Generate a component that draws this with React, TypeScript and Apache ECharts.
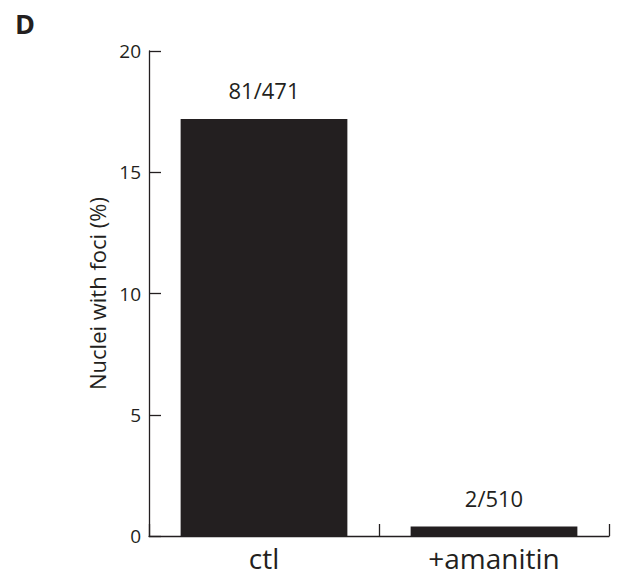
import React, { useEffect, useRef } from "react";
import * as echarts from "echarts";

const categories = ["ctl", "+amanitin"];
const values = [17.2, 0.39];
const barLabels = ["81/471", "2/510"];
const yTicks = [0, 5, 10, 15, 20];

const FONT = "'Open Sans', 'Noto Sans', sans-serif";
const INK = "#231f20";

export default function App() {
  const ref = useRef<HTMLDivElement>(null);
  useEffect(() => {
    if (!ref.current) return;
    const chart = echarts.init(ref.current, null, { renderer: "svg" });
    chart.setOption({
      animation: false,
      backgroundColor: "#ffffff",
      textStyle: { fontFamily: FONT },
      graphic: [
        {
          type: "text",
          left: 15,
          top: 10,
          style: { text: "D", font: `bold 27px ${FONT}`, fill: INK },
        },
      ],
      grid: { left: 149, right: 16, top: 51, bottom: 47, containLabel: false },
      xAxis: {
        type: "category",
        data: categories,
        boundaryGap: true,
        axisLine: { show: true, lineStyle: { color: INK, width: 1.3 } },
        axisTick: {
          show: true,
          inside: true,
          length: 12,
          alignWithLabel: false,
          lineStyle: { color: INK, width: 1.3 },
        },
        axisLabel: { color: INK, fontSize: 28, margin: 8, fontFamily: FONT },
        splitLine: { show: false },
      },
      yAxis: {
        type: "value",
        min: yTicks[0],
        max: yTicks[yTicks.length - 1],
        interval: 5,
        name: "Nuclei with foci (%)",
        nameLocation: "middle",
        nameGap: 39,
        nameTextStyle: { color: INK, fontSize: 22, fontFamily: FONT },
        axisLine: { show: true, lineStyle: { color: INK, width: 1.3 } },
        axisTick: { show: true, inside: true, length: 12, lineStyle: { color: INK, width: 1.3 } },
        axisLabel: { color: INK, fontSize: 19, margin: 8, fontFamily: FONT },
        splitLine: { show: false },
      },
      series: [
        {
          type: "bar",
          data: values.map((v, i) => ({
            value: v,
            label: { formatter: barLabels[i] },
          })),
          barWidth: "72.5%",
          itemStyle: { color: INK },
          label: {
            show: true,
            position: "top",
            distance: 18,
            color: INK,
            fontSize: 22,
            fontFamily: FONT,
          },
        },
      ],
    });
    return () => chart.dispose();
  }, []);
  return <div ref={ref} style={{ width: 625, height: 583, margin: -8 }} />;
}
